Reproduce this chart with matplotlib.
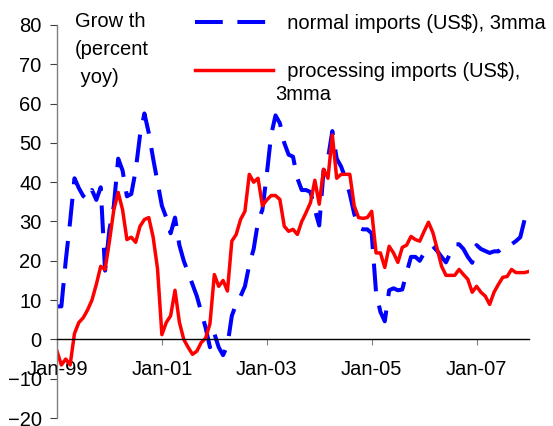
import numpy as np
import matplotlib
matplotlib.use("Agg")
import matplotlib.pyplot as plt

plt.rcParams['font.family'] = ['Liberation Sans', 'DejaVu Sans']
plt.rcParams['lines.scale_dashes'] = False

# Monthly, Jan-1999 .. Jan-2008 (index = months since Jan-99)
normal_imports = [
    8.4, 8.4, 20, 30, 41, 38.5, 36.5, 35.5, 38, 35.5,
    38.7, 17.5, 28, 34, 46, 43, 36.4, 37, 43, 52,
    57.5, 52.5, 46, 40, 34, 31, 27, 31, 24, 20,
    17, 14, 11, 7, 3, -2, 1.5, -2, -4, -1.5,
    6, 9, 11, 13.5, 19, 23, 30, 33, 42, 52,
    57, 55, 50, 47, 46.5, 41, 38, 38, 37.5, 33,
    29, 43, 46, 53, 46, 44, 41, 37, 32, 28.5,
    28, 28, 27, 12, 7, 4.6, 12.5, 13, 12.5, 12.7,
    17, 21, 21, 20, 22, 23.4, 23.7, 22.5, 21, 19.6,
    22, 24.2, 24.2, 23, 21, 19.5, 24, 23, 22.5, 22,
    22.4, 22.4, 23.5, 24.2, 24.2, 25, 26, 30.5, 32,
]
processing_imports = [
    -3, -6.5, -5, -6.5, 1.5, 4.3, 5.5, 7.5, 10, 14,
    18.6, 17.8, 25, 33, 37.4, 33, 25.4, 26, 24.7, 28.8,
    30.5, 31, 26, 18, 1.2, 4.3, 6, 12.5, 4.4, 0,
    -2, -3.8, -3, -0.8, 0.3, 4, 16.5, 13.5, 15, 12.3,
    25, 26.7, 30.5, 32.6, 42, 40, 41, 34, 35.5, 36.6,
    36.6, 35.6, 28.8, 27.5, 28, 26.7, 30, 32.3, 34.8, 40.5,
    34.4, 43.3, 41, 52, 41, 42, 42, 42, 34, 31,
    30.8, 31, 32.6, 22, 22, 18.3, 23.7, 22, 19.6, 23.4,
    24, 26.2, 25.4, 25, 27.5, 29.8, 27.2, 23, 18.6, 16.3,
    16.3, 16.3, 17.8, 16.5, 15.3, 12, 13.5, 12, 11, 8.9,
    12, 14, 15.8, 16, 17.8, 17, 17, 17, 17.3,
]
tick_months = [0, 24, 48, 72, 96]
tick_labels = ["Jan-99", "Jan-01", "Jan-03", "Jan-05", "Jan-07"]
y_ticks = list(range(-20, 81, 10))

months = np.arange(len(normal_imports))

W, H = 553, 426
fig = plt.figure(figsize=(W / 100, H / 100), dpi=100)
ax = fig.add_axes([57 / W, 8 / H, 472 / W, 393 / H])

fs = 14.5
ax.plot(months, normal_imports, color='#0000FF', lw=2.9, dashes=(20, 10.5),
        label='  normal imports (US$), 3mma')
ax.plot(months, processing_imports, color='#FF0000', lw=2.5,
        label='  processing imports (US$),')

ax.set_xlim(0, 108)
ax.set_ylim(-20, 80)
ax.set_yticks(y_ticks)
ax.set_xticks(tick_months)
ax.set_xticklabels(tick_labels)

for s in ['top', 'right']:
    ax.spines[s].set_visible(False)
ax.spines['bottom'].set_position(('data', 0))
ax.spines['bottom'].set_color('black')
ax.spines['bottom'].set_linewidth(1.0)
ax.spines['left'].set_color('#808080')
ax.spines['left'].set_linewidth(1.0)

ax.tick_params(axis='y', direction='out', length=5, width=0.8, color='#404040',
               labelsize=fs, pad=6)
ax.tick_params(axis='x', direction='out', length=4, width=0.8, color='#808080',
               labelsize=fs, pad=11)

fig.text(75 / W, 1 - 12 / H, "Grow th\n(percent\n yoy)", fontsize=fs,
         va='top', ha='left', linespacing=1.6)

fig.legend(loc='upper left', bbox_to_anchor=(195 / W, 1 - 14 / H),
           frameon=False, fontsize=fs, handlelength=3.85, handletextpad=0.15,
           labelspacing=1.42, borderpad=0, borderaxespad=0)
fig.text(275 / W, 1 - 94 / H, "3mma", fontsize=fs, va='center', ha='left')

fig.savefig("out.png", dpi=100)
